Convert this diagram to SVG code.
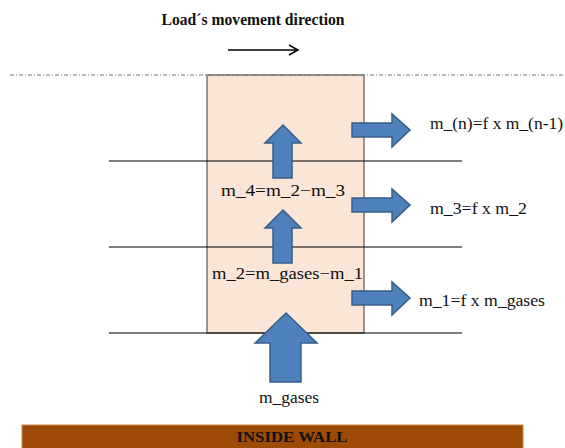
<svg xmlns="http://www.w3.org/2000/svg" width="565" height="448" viewBox="0 0 565 448">
<style>
text{font-family:'Liberation Serif','Times New Roman','DejaVu Serif',Times,serif}
.t{font-size:16px;fill:#111}
.b{font-weight:bold;fill:#111}
.ar{fill:#4f81bd;stroke:#385d8a;stroke-width:1.5;stroke-linejoin:miter}
.ln{stroke:#000;stroke-width:1.2;fill:none}
</style>
<defs>
<marker id="ah" markerWidth="12" markerHeight="12" refX="10" refY="6" orient="auto" markerUnits="userSpaceOnUse">
<path d="M1,1 L10,6 L1,11" fill="none" stroke="#000" stroke-width="1.5"/>
</marker>
</defs>
<rect width="565" height="448" fill="#fff"/>
<g id="title">
<text class="b" x="253" y="25" font-size="16.5" text-anchor="middle" textLength="183" lengthAdjust="spacingAndGlyphs">Load´s movement direction</text>
</g>
<g id="connectors">
<line x1="228" y1="50" x2="298" y2="50" stroke="#000" stroke-width="1.5" marker-end="url(#ah)"/>
</g>
<g id="column">
<rect x="207" y="75" width="157" height="258" fill="#fbe5d6" stroke="#7f7068" stroke-width="1.5"/>
</g>
<line x1="10" y1="75" x2="565" y2="75" stroke="#777" stroke-width="1.2" stroke-dasharray="4,2,1,2"/>
<g id="layers">
<line class="ln" x1="109" y1="161" x2="462" y2="161"/>
<line class="ln" x1="109" y1="247" x2="462" y2="247"/>
<line class="ln" x1="109" y1="333" x2="462" y2="333"/>
</g>
<g id="up-arrow-1"><path class="ar" d="M283,125 L301,143 L292,143 L292,178 L273,178 L273,143 L265,143 Z"/></g>
<g id="up-arrow-2"><path class="ar" d="M283,210 L301,228 L292,228 L292,263 L273,263 L273,228 L265,228 Z"/></g>
<g id="up-arrow-gases"><path class="ar" d="M286,313 L317,343 L301,343 L301,382 L270,382 L270,343 L255,343 Z"/></g>
<g id="right-arrow-n"><path class="ar" d="M352,123 L392,123 L392,114 L410,130 L392,147 L392,137 L352,137 Z"/></g>
<g id="right-arrow-3"><path class="ar" d="M352,198 L392,198 L392,189 L410,205 L392,222 L392,212 L352,212 Z"/></g>
<g id="right-arrow-1"><path class="ar" d="M352,291 L392,291 L392,282 L410,298 L392,315 L392,305 L352,305 Z"/></g>
<g id="label-m4"><text class="t" x="221" y="196" textLength="124" lengthAdjust="spacingAndGlyphs">m_4=m_2−m_3</text></g>
<g id="label-m2"><text class="t" x="212" y="279" textLength="151" lengthAdjust="spacingAndGlyphs">m_2=m_gases−m_1</text></g>
<g id="label-mn"><text class="t" x="430" y="129" textLength="133" lengthAdjust="spacingAndGlyphs">m_(n)=f x m_(n-1)</text></g>
<g id="label-m3"><text class="t" x="430" y="214" textLength="97" lengthAdjust="spacingAndGlyphs">m_3=f x m_2</text></g>
<g id="label-m1"><text class="t" x="419" y="306" textLength="126" lengthAdjust="spacingAndGlyphs">m_1=f x m_gases</text></g>
<g id="label-gases"><text class="t" x="289" y="403" text-anchor="middle" textLength="60" lengthAdjust="spacingAndGlyphs">m_gases</text></g>
<g id="inside-wall">
<rect x="22" y="425" width="501" height="24" fill="#9c4a06" stroke="#c8864a" stroke-width="1"/>
<text class="b" x="292" y="442" font-size="15" text-anchor="middle" textLength="111" lengthAdjust="spacingAndGlyphs" fill="#2a0e00">INSIDE WALL</text>
</g>
</svg>
